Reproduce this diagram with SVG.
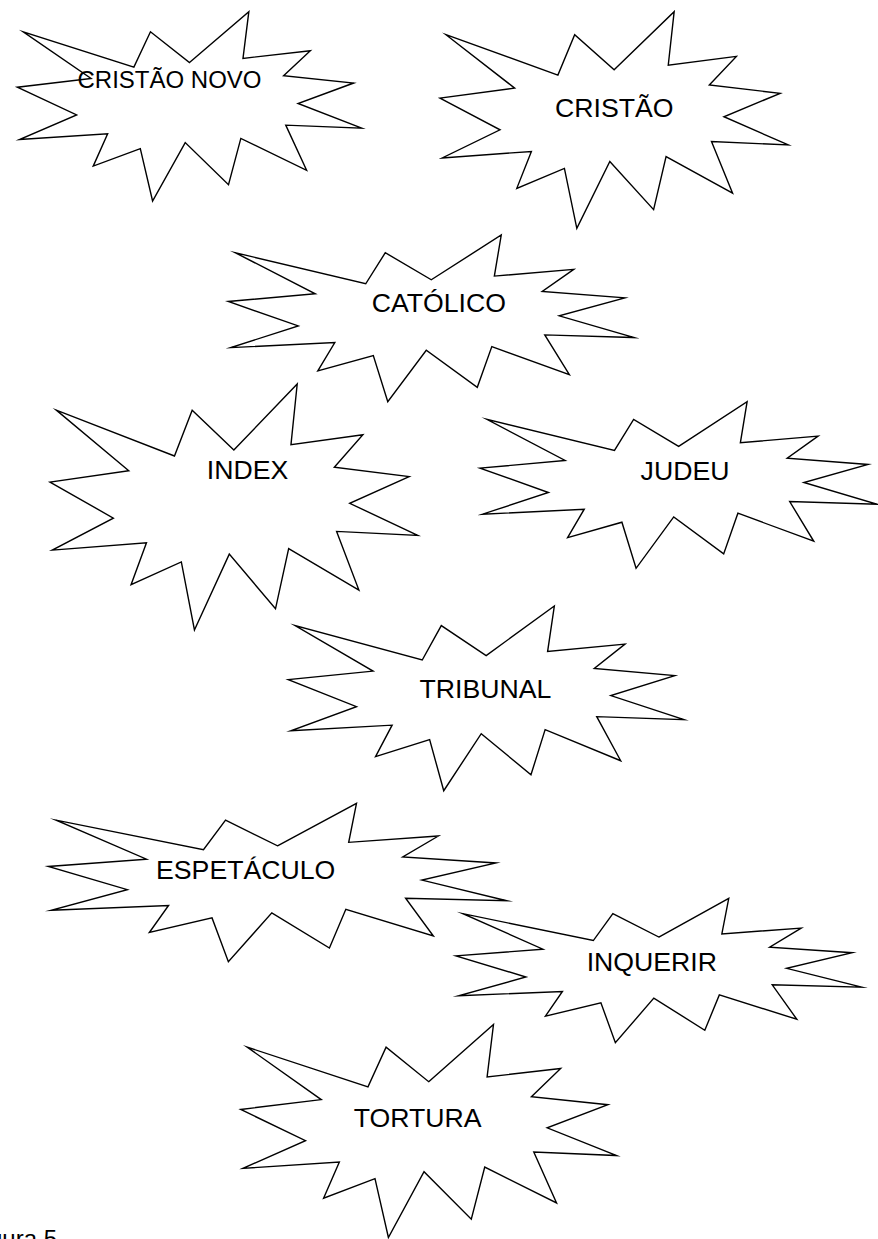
<svg xmlns="http://www.w3.org/2000/svg" xmlns:xlink="http://www.w3.org/1999/xlink" width="878" height="1239" viewBox="0 0 878 1239">
  <style>
    .seal { fill: #ffffff; stroke: #000000; stroke-width: 1.4; stroke-linejoin: miter; stroke-miterlimit: 10; }
    .lbl { font-family: "Liberation Sans", Arial, sans-serif; font-size: 26.67px; fill: #000000; text-anchor: middle; }
    .lbl-sm { font-size: 24px; }
    .cap { font-family: "Liberation Sans", Arial, sans-serif; font-size: 24px; fill: #000000; text-anchor: end; }
  </style>
  <defs>
    <path id="seal" vector-effect="non-scaling-stroke" style="vector-effect: non-scaling-stroke" d="M10800,5800 L14522,0 L14155,5325 L18380,4457 L16702,7315 L21097,8137 L17607,10475 L21600,13290 L16837,12942 L18145,18095 L14020,14457 L13247,19737 L10532,14935 L8485,21600 L7715,15627 L4762,17617 L5667,13937 L135,14587 L3722,11775 L0,8615 L4627,7617 L370,2295 L7312,6320 L8352,2295 Z"/>
  </defs>
  <g id="connectors"/>
  <g id="node-cristao-novo">
    <use xlink:href="#seal" href="#seal" class="seal" transform="translate(17.3,11.7) scale(0.015944,0.008764)"/>
    <text class="lbl lbl-sm" x="169.5" y="88.3">CRISTÃO NOVO</text>
  </g>
  <g id="node-cristao">
    <use xlink:href="#seal" href="#seal" class="seal" transform="translate(440,11.7) scale(0.016125,0.010028)"/>
    <text class="lbl" x="614.3" y="116.7">CRISTÃO</text>
  </g>
  <g id="node-catolico">
    <use xlink:href="#seal" href="#seal" class="seal" transform="translate(228.3,235) scale(0.018796,0.007718)"/>
    <text class="lbl" x="438.8" y="312.3">CATÓLICO</text>
  </g>
  <g id="node-index">
    <use xlink:href="#seal" href="#seal" class="seal" transform="translate(50,384) scale(0.017023,0.011389)"/>
    <text class="lbl" x="247.5" y="479.3">INDEX</text>
  </g>
  <g id="node-judeu">
    <use xlink:href="#seal" href="#seal" class="seal" transform="translate(480,401.7) scale(0.018394,0.007713)"/>
    <text class="lbl" x="685" y="480">JUDEU</text>
  </g>
  <g id="node-tribunal">
    <use xlink:href="#seal" href="#seal" class="seal" transform="translate(288.3,606) scale(0.018319,0.008551)"/>
    <text class="lbl" x="485.5" y="698.3">TRIBUNAL</text>
  </g>
  <g id="node-espetaculo">
    <use xlink:href="#seal" href="#seal" class="seal" transform="translate(48.3,803.3) scale(0.021222,0.007333)"/>
    <text class="lbl" x="245.7" y="879.3">ESPETÁCULO</text>
  </g>
  <g id="node-inquerir">
    <use xlink:href="#seal" href="#seal" class="seal" transform="translate(456,898.3) scale(0.018782,0.006685)"/>
    <text class="lbl" x="651.8" y="970.7">INQUERIR</text>
  </g>
  <g id="node-tortura">
    <use xlink:href="#seal" href="#seal" class="seal" transform="translate(240.7,1024.5) scale(0.017407,0.009861)"/>
    <text class="lbl" x="417.7" y="1127.3">TORTURA</text>
  </g>
  <text class="cap" x="57" y="1247">Figura 5</text>
</svg>
